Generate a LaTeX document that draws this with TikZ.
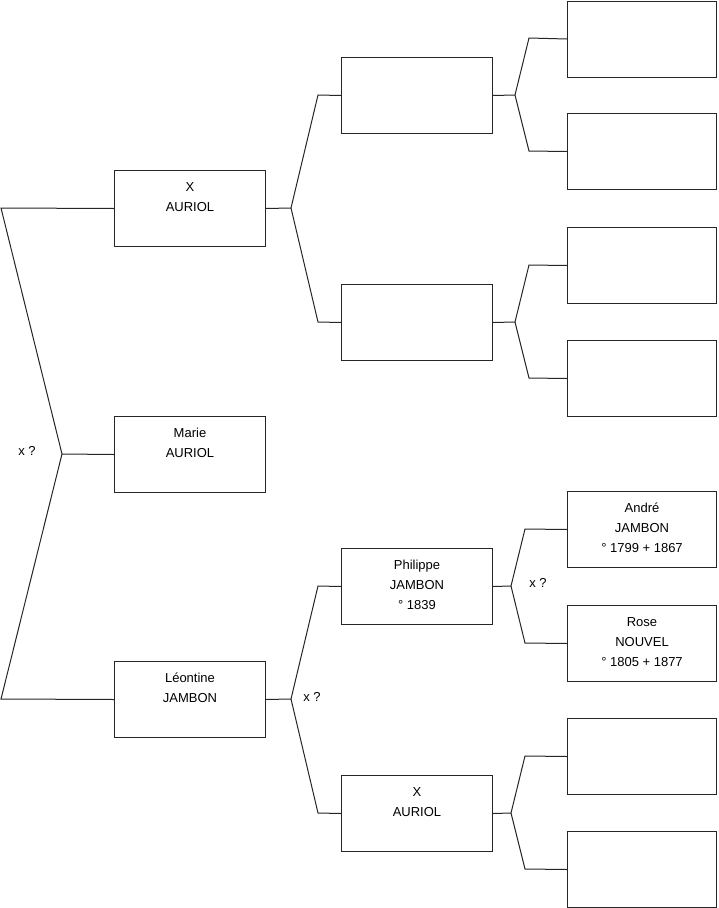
\documentclass[tikz,border=0pt]{standalone}
\usepackage{fontspec}
\setmainfont{Liberation Sans}
\newcommand\pgtxt[1]{\parbox[c][76pt][t]{\boxw}{\centering\rule{0pt}{20.6pt}#1}}
\newlength\boxw
\begin{document}
\begin{tikzpicture}[x=1pt,y=-1pt,
  box/.style={draw=black!85, line width=1pt, inner sep=0pt, anchor=north west,
    font=\fontsize{13}{20}\selectfont},
  conn/.style={draw=black!85, line width=1pt},
  lbl/.style={font=\fontsize{13}{16}\selectfont, inner sep=0pt}]
\useasboundingbox (0,0) rectangle (719,908);
\fill[white] (0,0) rectangle (719,908);
% column 1
\setlength\boxw{151pt}
\node[box] (x1) at (114,170) {\pgtxt{X\\AURIOL}};
\node[box] (m) at (114,416) {\pgtxt{Marie\\AURIOL}};
\node[box] (l) at (114,661) {\pgtxt{Léontine\\JAMBON}};
% column 2
\node[box] (a) at (341,57) {\pgtxt{}};
\node[box] (b) at (341,284) {\pgtxt{}};
\node[box] (p) at (341,548) {\pgtxt{Philippe\\JAMBON\\° 1839}};
\node[box] (x2) at (341,775) {\pgtxt{X\\AURIOL}};
% column 3
\setlength\boxw{149pt}
\node[box] (a1) at (567,0.5) {\pgtxt{}};
\node[box] (a2) at (567,113) {\pgtxt{}};
\node[box] (b1) at (567,227) {\pgtxt{}};
\node[box] (b2) at (567,340) {\pgtxt{}};
\node[box] (p1) at (567,491) {\pgtxt{André\\JAMBON\\° 1799 + 1867}};
\node[box] (p2) at (567,605) {\pgtxt{Rose\\NOUVEL\\° 1805 + 1877}};
\node[box] (x21) at (567,718) {\pgtxt{}};
\node[box] (x22) at (567,831) {\pgtxt{}};
% junction coordinates
\coordinate (j0) at (62,454);
\coordinate (j0a) at (1,208);
\coordinate (j0b) at (1,699);
\coordinate (jx) at (291,208);
\coordinate (jxa) at (318,95);
\coordinate (jxb) at (318,322);
\coordinate (jl) at (291,699);
\coordinate (jla) at (318,586);
\coordinate (jlb) at (318,813);
\coordinate (ja) at (515,95);
\coordinate (jaa) at (529,38);
\coordinate (jab) at (529,151);
\coordinate (jb) at (515,322);
\coordinate (jba) at (529,265);
\coordinate (jbb) at (529,378);
\coordinate (jp) at (511,586);
\coordinate (jpa) at (525,529);
\coordinate (jpb) at (525,643);
\coordinate (jq) at (511,813);
\coordinate (jqa) at (525,756);
\coordinate (jqb) at (525,869);
% connectors
\draw[conn] (m.west) -- (j0);
\draw[conn] (x1.west) -- (j0a) -- (j0) -- (j0b) -- (l.west);
\draw[conn] (x1.east) -- (jx);
\draw[conn] (a.west) -- (jxa) -- (jx) -- (jxb) -- (b.west);
\draw[conn] (l.east) -- (jl);
\draw[conn] (p.west) -- (jla) -- (jl) -- (jlb) -- (x2.west);
\draw[conn] (a.east) -- (ja);
\draw[conn] (a1.west) -- (jaa) -- (ja) -- (jab) -- (a2.west);
\draw[conn] (b.east) -- (jb);
\draw[conn] (b1.west) -- (jba) -- (jb) -- (jbb) -- (b2.west);
\draw[conn] (p.east) -- (jp);
\draw[conn] (p1.west) -- (jpa) -- (jp) -- (jpb) -- (p2.west);
\draw[conn] (x2.east) -- (jq);
\draw[conn] (x21.west) -- (jqa) -- (jq) -- (jqb) -- (x22.west);
% labels
\node[lbl] (x0l) at (27,451) {x ?};
\node[lbl] (xll) at (312,697) {x ?};
\node[lbl] (xpl) at (538,583) {x ?};
\end{tikzpicture}
\end{document}
